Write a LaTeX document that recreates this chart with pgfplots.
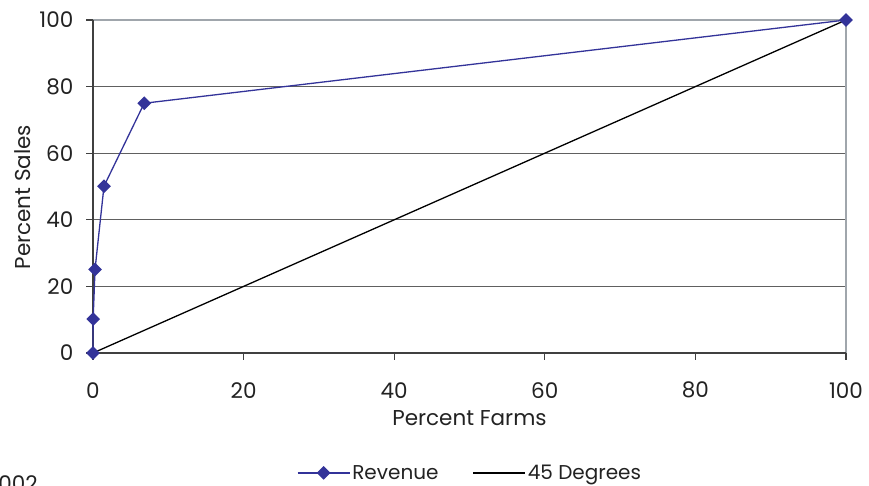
\documentclass[border=0pt]{standalone}
\usepackage{pgfplots}
\pgfplotsset{compat=1.18}
\usepackage{fontspec}
\setmainfont{Poppins}
\definecolor{revblue}{HTML}{333399}
\definecolor{txt}{HTML}{222222}
\definecolor{gridc}{HTML}{606060}
\definecolor{axc}{HTML}{404040}
\definecolor{lightb}{HTML}{A0A6AC}
\newcommand{\ff}{\fontsize{21.5}{24}\selectfont}
\newcommand{\fl}{\fontsize{20}{23}\selectfont}
\begin{document}
\begin{tikzpicture}[x=1pt,y=1pt]
\useasboundingbox (0,0) rectangle (869,486);
\begin{axis}[
  at={(93pt,133pt)}, anchor=south west,
  scale only axis, width=753pt, height=333pt,
  xmin=0, xmax=100, ymin=0, ymax=100,
  xtick={0,20,40,60,80,100}, ytick={0,20,40,60,80,100},
  axis lines=left,
  axis line style={draw=none},
  major tick style={draw=none},
  /pgf/number format/assume math mode=true,
  ticklabel style={font=\ff, text=txt},
  xticklabel style={anchor=center, yshift=-35pt},
  yticklabel style={anchor=east, xshift=-14pt},
  xlabel={Percent Farms}, ylabel={Percent Sales},
  label style={font=\ff, text=txt},
  xlabel style={at={(axis description cs:0.5,-0.195)}, anchor=center},
  ylabel style={at={(axis description cs:-0.094,0.468)}, anchor=center, rotate=0},
  legend style={at={(axis description cs:0.5007,-0.36)}, anchor=center, draw=none, fill=none,
    font=\fl, text=txt, legend columns=2,
    /tikz/every even column/.append style={column sep=32pt}},
  legend image code/.code={\draw[mark repeat=2,mark phase=2,#1] plot coordinates {(0pt,0pt) (26pt,0pt) (52pt,0pt)};},
  clip=false,
]
% gridlines
\foreach \yy in {20,40,60,80}{
  \edef\tmp{\noexpand\draw[gridc, line width=1.2pt] (axis cs:0,\yy) -- (axis cs:100,\yy);}\tmp
}
\draw[lightb, line width=1.5pt] (axis cs:0,100) -- (axis cs:100,100) -- (axis cs:100,0);
% ticks
\foreach \yy in {0,20,40,60,80,100}{
  \edef\tmp{\noexpand\draw[axc, line width=1.2pt] (axis cs:0,\yy) -- ++(-7pt,0);}\tmp
}
\foreach \xx in {0,20,40,60,80,100}{
  \edef\tmp{\noexpand\draw[axc, line width=1.2pt] (axis cs:\xx,0) -- ++(0,-7pt);}\tmp
}
\draw[axc, line width=1.4pt] (axis cs:0,100) -- (axis cs:0,0) -- (axis cs:100,0);
\addplot[revblue, line width=1.3pt, mark=square*, mark size=4.2pt, mark options={rotate=45, fill=revblue, draw=revblue}]
  coordinates {(0,0) (0.02,10.2) (0.27,25.1) (1.46,50.1) (6.8,75) (100,100)};
\addlegendentry{Revenue}
\addplot[black, line width=1.3pt, no marks] coordinates {(0,0) (100,100)};
\addlegendentry{45 Degrees}
\end{axis}
\node[anchor=north east, inner sep=0pt, font=\ff, text=txt] at (38,11) {2002};
\end{tikzpicture}
\end{document}
